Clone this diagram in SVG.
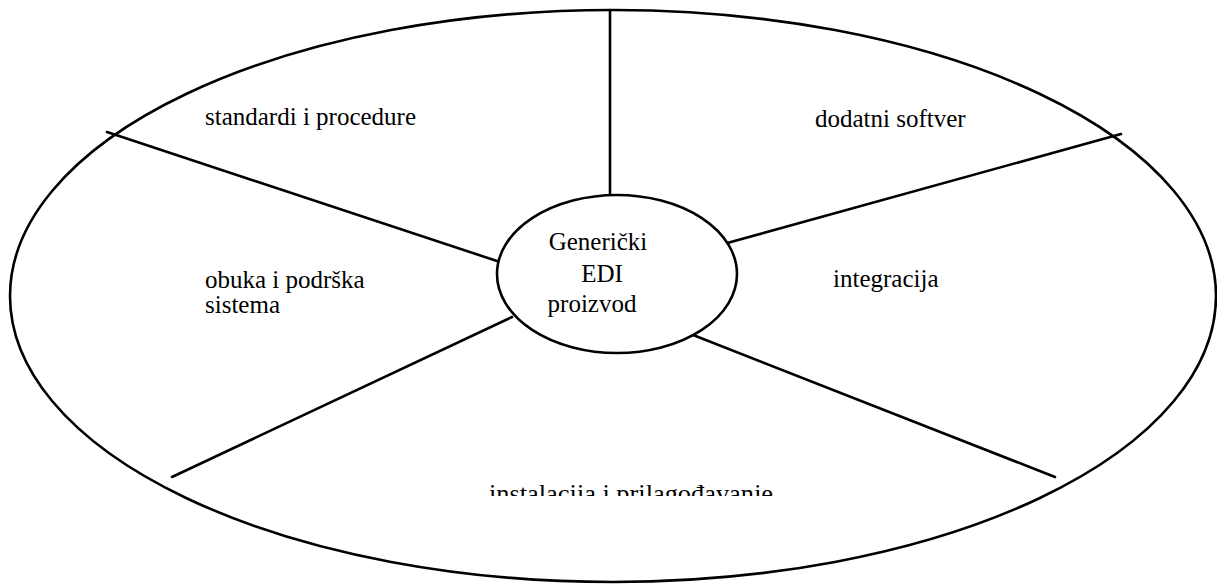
<svg xmlns="http://www.w3.org/2000/svg" width="1217" height="584" viewBox="0 0 1217 584">
  <style>
    .shape { fill: none; stroke: #000; stroke-width: 2.6; }
    .conn { stroke: #000; stroke-width: 2.6; stroke-linecap: round; }
    .lbl { font-family: "Liberation Serif", "Times New Roman", serif; font-size: 25px; fill: #000; }
  </style>
  <defs>
    <clipPath id="bottomCut">
      <rect x="0" y="0" width="1217" height="496"/>
    </clipPath>
  </defs>
  <rect x="0" y="0" width="1217" height="584" fill="#fff"/>

  <!-- outer ring -->
  <g id="outer">
    <ellipse class="shape" cx="613" cy="296" rx="603" ry="286"/>
  </g>

  <!-- dividers between the segments -->
  <g id="connectors">
    <line class="conn" x1="610" y1="10" x2="610" y2="200"/>
    <line class="conn" x1="107" y1="132" x2="497" y2="261"/>
    <line class="conn" x1="720" y1="245" x2="1121" y2="134"/>
    <line class="conn" x1="172" y1="477" x2="512" y2="317"/>
    <line class="conn" x1="688" y1="333" x2="1055" y2="477"/>
  </g>

  <!-- centre node -->
  <g id="core">
    <ellipse cx="617" cy="274" rx="120" ry="79" fill="#fff" stroke="#000" stroke-width="2.6"/>
    <text class="lbl" x="598" y="250" text-anchor="middle">Generički</text>
    <text class="lbl" x="602" y="282" text-anchor="middle">EDI</text>
    <text class="lbl" x="592" y="312" text-anchor="middle">proizvod</text>
  </g>

  <g id="seg-standardi">
    <text class="lbl" x="205" y="125">standardi i procedure</text>
  </g>
  <g id="seg-softver">
    <text class="lbl" x="815" y="127">dodatni softver</text>
  </g>
  <g id="seg-obuka">
    <text class="lbl" x="205" y="288">obuka i podrška</text>
    <text class="lbl" x="205" y="313">sistema</text>
  </g>
  <g id="seg-integracija">
    <text class="lbl" x="833" y="287">integracija</text>
  </g>
  <g id="seg-instalacija">
    <text class="lbl" x="489" y="502" clip-path="url(#bottomCut)" textLength="284" lengthAdjust="spacingAndGlyphs">instalacija i prilagođavanje</text>
  </g>
</svg>
